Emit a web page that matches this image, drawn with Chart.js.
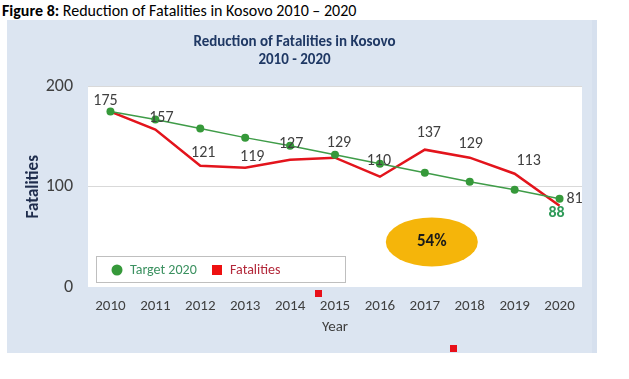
<!DOCTYPE html>
<html>
<head>
<meta charset="utf-8">
<script src="https://cdn.jsdelivr.net/npm/chart.js@4"></script>
<style>
  html, body { margin: 0; padding: 0; background: #ffffff; width: 629px; height: 379px; overflow: hidden; }
  #cap { position: absolute; left: 2px; top: 1px; font-family: Carlito, Lato, sans-serif; font-size: 16px; color: #000; white-space: nowrap; }
  #panel { position: absolute; left: 7px; top: 20px; width: 590px; height: 333px; background: #dce5f1; }
  canvas { display: block; }
</style>
</head>
<body>
<div id="cap"><b>Figure 8:</b> Reduction of Fatalities in Kosovo 2010 – 2020</div>
<div id="panel"><canvas id="c" width="590" height="333"></canvas></div>
<script>
// ---- data ----
const years = ['2010','2011','2012','2013','2014','2015','2016','2017','2018','2019','2020'];
const fatalities = [175, 157, 121, 119, 127, 129, 110, 137, 129, 113, 81];
const target2020 = [175, 167, 158, 149, 141, 132, 123, 114, 105, 97, 88];
const yTicks = [0, 100, 200];
const titleLines = ['Reduction of Fatalities in Kosovo', '2010 - 2020'];
const reductionText = '54%';

const FONT = 'Carlito, Lato, sans-serif';

// label offsets (px) relative to each point
const fatalLabelOffsets = [[-5,-11],[6,-12],[3,-13],[7,-11],[1,-16],[4,-15],[-1,-16],[4,-17],[1,-14],[14,-13],[15,-7]];

const decorPlugin = {
  id: 'decor',
  beforeDraw(chart) {
    const {ctx, chartArea: a, width, height} = chart;
    ctx.save();
    ctx.fillStyle = '#d6e0ee';
    ctx.fillRect(width - 5, 0, 5, height);
    ctx.fillStyle = '#ffffff';
    ctx.fillRect(a.left, a.top, a.right - a.left, a.bottom - a.top);
    ctx.restore();
  },
  afterDatasetsDraw(chart) {
    const {ctx, chartArea: a, scales} = chart;
    ctx.save();
    // data labels for fatalities
    const fMeta = chart.getDatasetMeta(1);
    ctx.font = '16px ' + FONT;
    ctx.fillStyle = '#404040';
    ctx.textAlign = 'center';
    ctx.textBaseline = 'middle';
    fMeta.data.forEach((pt, i) => {
      const o = fatalLabelOffsets[i];
      ctx.fillText(String(chart.data.datasets[1].data[i]), pt.x + o[0], pt.y + o[1]);
    });
    // last target label
    const tMeta = chart.getDatasetMeta(0);
    const last = tMeta.data.length - 1;
    const tp = tMeta.data[last];
    ctx.font = 'bold 16px ' + FONT;
    ctx.fillStyle = '#2e9a58';
    ctx.fillText(String(chart.data.datasets[0].data[last]), tp.x - 3, tp.y + 14);

    // ellipse annotation
    const ex = scales.x.getPixelForValue(7) + 7;
    const ey = scales.y.getPixelForValue(45);
    ctx.fillStyle = '#f5b50a';
    ctx.beginPath();
    ctx.ellipse(ex, ey, 46, 24.5, 0, 0, Math.PI * 2);
    ctx.fill();
    ctx.fillStyle = '#1a1a1a';
    ctx.font = 'bold 17px ' + FONT;
    ctx.fillText(reductionText, ex, ey);

    // legend
    const lx = a.left + 8, ly = a.bottom - 31, lw = 249, lh = 26;
    ctx.fillStyle = '#ffffff';
    ctx.fillRect(lx, ly, lw, lh);
    ctx.strokeStyle = '#bfbfbf';
    ctx.lineWidth = 1;
    ctx.strokeRect(lx + 0.5, ly + 0.5, lw, lh);
    const cy = ly + lh / 2 + 1;
    const ds = chart.data.datasets;
    ctx.fillStyle = ds[0].pointBackgroundColor;
    ctx.beginPath();
    ctx.arc(lx + 21, cy, 5.5, 0, Math.PI * 2);
    ctx.fill();
    ctx.textAlign = 'left';
    ctx.font = '14px ' + FONT;
    ctx.fillStyle = '#3b9160';
    ctx.fillText(ds[0].label, lx + 34, cy);
    ctx.fillStyle = '#ee1111';
    ctx.fillRect(lx + 116, cy - 5, 10, 10);
    ctx.fillStyle = '#b3283a';
    ctx.fillText(ds[1].label, lx + 134, cy);

    // stray red markers from the original figure
    ctx.fillStyle = '#e8101a';
    ctx.fillRect(308, 270, 7, 7);
    ctx.fillRect(443, 325, 7, 7);
    ctx.restore();
  }
};

new Chart(document.getElementById('c'), {
  type: 'line',
  data: {
    labels: years,
    datasets: [
      {
        label: 'Target 2020',
        data: target2020,
        borderColor: '#3f9c48',
        borderWidth: 1.5,
        pointRadius: 4,
        pointBackgroundColor: '#36993a',
        pointBorderWidth: 0,
        tension: 0
      },
      {
        label: 'Fatalities',
        data: fatalities,
        borderColor: '#e3141c',
        borderWidth: 2.5,
        pointRadius: 0,
        tension: 0
      }
    ]
  },
  options: {
    responsive: false,
    animation: false,
    devicePixelRatio: 1,
    layout: { padding: { left: 0, right: 15, top: 0, bottom: 0 } },
    plugins: {
      legend: { display: false },
      tooltip: { enabled: false },
      title: {
        display: true,
        text: titleLines,
        color: '#1f3864',
        font: { family: FONT, size: 15, weight: 'bold', lineHeight: 1.15 },
        padding: { top: 14, bottom: 18 }
      }
    },
    scales: {
      x: {
        type: 'category',
        offset: true,
        grid: { display: false, drawTicks: false },
        border: { display: false },
        ticks: { color: '#404040', font: { family: FONT, size: 15 }, padding: 10, maxRotation: 0 },
        title: { display: true, text: 'Year', color: '#404040', font: { family: FONT, size: 15 }, padding: { top: 0, bottom: 17 } },
        afterFit: s => { s.height = 66; }
      },
      y: {
        min: 0,
        max: 200,
        afterBuildTicks: s => { s.ticks = yTicks.map(v => ({ value: v })); },
        grid: { color: c => c.tick && c.tick.value === 0 ? 'rgba(0,0,0,0)' : '#d9d9d9', drawTicks: false },
        border: { display: false },
        ticks: { color: '#404040', font: { family: FONT, size: 18 }, padding: 15 },
        title: { display: true, text: 'Fatalities', color: '#1f2d4d', font: { family: FONT, size: 17, weight: 'bold' }, padding: { top: 17, bottom: 0 } },
        afterFit: s => { s.width = 81; }
      }
    }
  },
  plugins: [decorPlugin]
});
</script>
</body>
</html>
